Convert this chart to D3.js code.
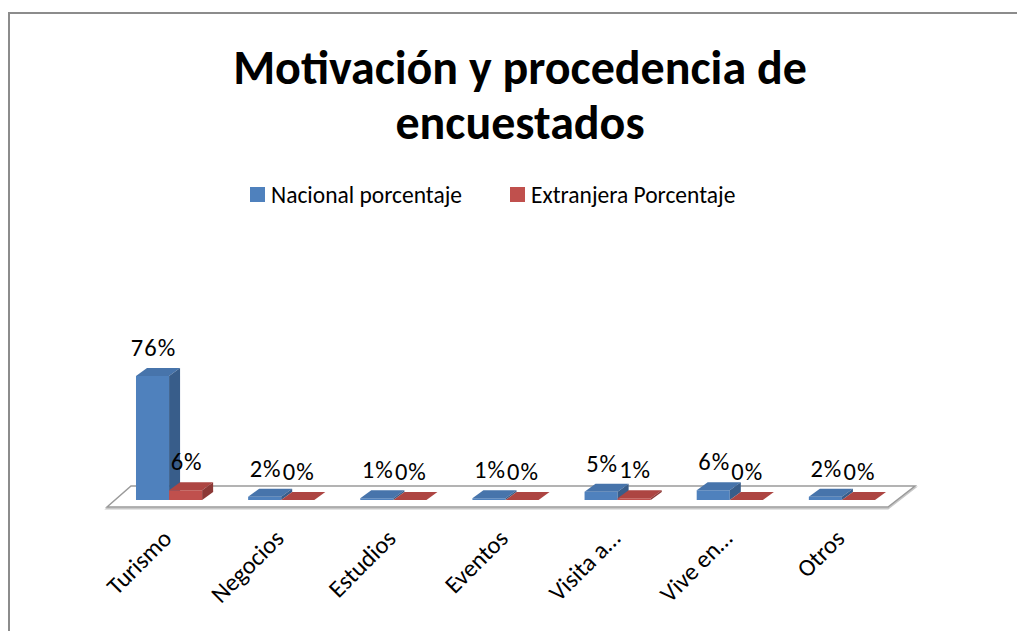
<!DOCTYPE html>
<html>
<head>
<meta charset="utf-8">
<script src="https://cdn.jsdelivr.net/npm/d3@7"></script>
<style>
  html, body { margin: 0; padding: 0; background: #fff; }
  svg { display: block; }
  text { font-family: Carlito, Calibri, Lato, "Open Sans", sans-serif; fill: #000; }
</style>
</head>
<body>
<svg id="chart" width="1017" height="631"></svg>
<script>
// ---- data ----
const categories = ["Turismo", "Negocios", "Estudios", "Eventos", "Visita a…", "Vive en…", "Otros"];
const seriesNames = ["Nacional porcentaje", "Extranjera Porcentaje"];
const nacional = [76, 2, 1, 1, 5, 6, 2];
const extranjera = [6, 0, 0, 0, 1, 0, 0];
const titleLines = ["Motivación y procedencia de", "encuestados"];

const series = [
  { name: seriesNames[0], values: nacional, front: "#4f81bd", top: "#4774ab", side: "#385d8a" },
  { name: seriesNames[1], values: extranjera, front: "#c0504d", top: "#ad4542", side: "#8c3836" }
];

const svg = d3.select("#chart");

// frame
svg.append("rect").attr("x", 9).attr("y", 13).attr("width", 1030).attr("height", 640)
  .attr("fill", "#fff").attr("stroke", "#8c8c8c").attr("stroke-width", 2);

// title
svg.append("g").selectAll("text").data(titleLines).join("text")
  .attr("x", 520).attr("y", (d, i) => 84 + i * 55)
  .attr("text-anchor", "middle").attr("font-size", 48).attr("font-weight", "bold")
  .text(d => d);

// legend
const legendX = [250, 510];
const lg = svg.append("g").selectAll("g").data(series).join("g")
  .attr("transform", (d, i) => `translate(${legendX[i]},187)`);
lg.append("rect").attr("width", 15).attr("height", 15).attr("fill", d => d.front);
lg.append("text").attr("x", 21).attr("y", 15.5).attr("font-size", 23.5).text(d => d.name);

// scales
const x0 = d3.scaleBand().domain(categories).range([113, 898]).paddingInner(0.41).paddingOuter(0.205);
const x1 = d3.scaleBand().domain(seriesNames).range([0, x0.bandwidth()]);
const y = d3.scaleLinear().domain([0, 80]).range([500, 369.5]);

const dx = 11, dy = -8;  // bar depth

// floor
const fy0 = y(0);
const fl = [[x0.range()[0] - 6, fy0 + 7], [x0.range()[0] + 18, fy0 - 14], [x0.range()[1] + 17, fy0 - 14], [x0.range()[1] - 10, fy0 + 7]];
svg.append("path")
  .attr("d", d3.line()(fl.map(p => [p[0], p[1] + 1.5])) + "Z")
  .attr("fill", "none").attr("stroke", "#c8c8c8").attr("stroke-width", 2);
svg.append("path")
  .attr("d", d3.line()(fl) + "Z")
  .attr("fill", "#fff").attr("stroke", "#9a9a9a").attr("stroke-width", 1.5);

// bars
const gBars = svg.append("g");
categories.forEach((c, ci) => {
  series.forEach(s => {
    const v = s.values[ci];
    const xl = x0(c) + x1(s.name);
    const xr = xl + x1.bandwidth();
    const yt = y(v), yb = y(0);
    const g = gBars.append("g");
    g.append("path").attr("fill", s.front)
      .attr("d", d3.line()([[xl, yt], [xr, yt], [xr, yb], [xl, yb]]) + "Z");
    g.append("path").attr("fill", s.top)
      .attr("d", d3.line()([[xl, yt], [xl + dx, yt + dy], [xr + dx, yt + dy], [xr, yt]]) + "Z");
    g.append("path").attr("fill", s.side)
      .attr("d", d3.line()([[xr, yt], [xr + dx, yt + dy], [xr + dx, yb + dy], [xr, yb]]) + "Z");
  });
});

// data labels
const gLab = svg.append("g");
categories.forEach((c, ci) => {
  series.forEach(s => {
    const v = s.values[ci];
    gLab.append("text")
      .attr("x", x0(c) + x1(s.name) + x1.bandwidth() / 2 + 1)
      .attr("y", y(v) - 20)
      .attr("text-anchor", "middle").attr("font-size", 24.5).attr("letter-spacing", 1)
      .text(v + "%");
  });
});

// category labels
svg.append("g").selectAll("text").data(categories).join("text")
  .attr("font-size", 24.5).attr("text-anchor", "end")
  .attr("transform", d => `translate(${x0(d) + x0.bandwidth() / 2 + 4},540) rotate(-45)`)
  .text(d => d);
</script>
</body>
</html>
